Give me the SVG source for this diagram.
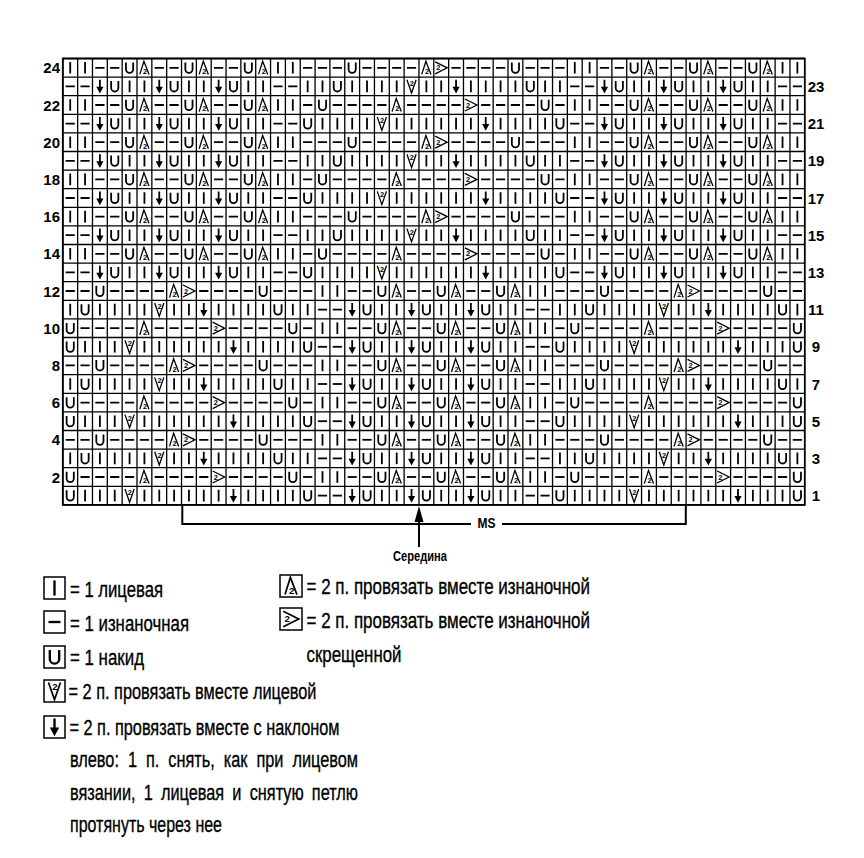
<svg xmlns="http://www.w3.org/2000/svg" xmlns:xlink="http://www.w3.org/1999/xlink" width="864" height="858" viewBox="0 0 864 858">
<style>
.g{stroke:#000;stroke-width:1.3;fill:none}
.s{stroke:#000;stroke-width:1.8;fill:none}
.s2{stroke:#000;stroke-width:1.3;fill:none;stroke-linejoin:miter}
.t2{font-family:'Liberation Sans',Arial,sans-serif;font-size:7.5px;font-weight:bold;fill:#000;text-anchor:middle}
.lbl{font-family:'Liberation Sans',Arial,sans-serif;font-size:15px;font-weight:bold;fill:#000}
.lg{font-family:'Liberation Sans',Arial,sans-serif;font-size:22px;fill:#000;stroke:#000;stroke-width:0.35}
.bx{fill:#fff;stroke:#000;stroke-width:1.5}
</style>
<defs>
<clipPath id="cp"><rect x="62.8" y="58.5" width="742" height="446.4"/></clipPath>
<g id="K"><path class="s" d="M0,-5.8V5.8"/></g>
<g id="P"><path class="s" d="M-4.6,0H4.6"/></g>
<g id="O"><path class="s" stroke-width="1.6" d="M-3.6,-5.3V1.5A3.6,3.6 0 0 0 3.6,1.5V-5.3"/></g>
<g id="A"><path class="s2" d="M-4.6,6.6L-0.5,-6.6L4.6,6.6"/><text class="t2" x="0.6" y="6.4">2</text></g>
<g id="T"><path class="s2" d="M-6,-6L6,0L-6,6"/><text class="t2" x="-2.9" y="2.6">2</text></g>
<g id="V"><path class="s2" d="M-4.6,-6.6L0,6.6L4.6,-6.6"/><text class="t2" x="0.3" y="-0.6">2</text></g>
<g id="D"><path class="s" d="M0,-6.6V2"/><path d="M-3.6,0.4H3.6L0,7.2Z" fill="#000"/></g>

<g id="SE"><use href="#K"/><use href="#K" x="14.84"/><use href="#P" x="29.68"/><use href="#P" x="44.52"/><use href="#O" x="59.36"/><use href="#A" x="74.2"/><use href="#P" x="89.04"/><use href="#P" x="103.88"/><use href="#O" x="118.72"/><use href="#A" x="133.56"/><use href="#P" x="148.4"/><use href="#P" x="163.24"/><use href="#O" x="178.08"/><use href="#A" x="192.92"/><use href="#K" x="207.76"/><use href="#K" x="222.6"/></g>
<g id="SO"><use href="#P"/><use href="#P" x="14.84"/><use href="#D" x="29.68"/><use href="#O" x="44.52"/><use href="#K" x="59.36"/><use href="#K" x="74.2"/><use href="#D" x="89.04"/><use href="#O" x="103.88"/><use href="#K" x="118.72"/><use href="#K" x="133.56"/><use href="#D" x="148.4"/><use href="#O" x="163.24"/><use href="#K" x="178.08"/><use href="#K" x="192.92"/><use href="#P" x="207.76"/><use href="#P" x="222.6"/></g>
<g id="CAE"><use href="#P"/><use href="#P" x="14.84"/><use href="#P" x="29.68"/><use href="#O" x="44.52"/><use href="#P" x="59.36"/><use href="#P" x="74.2"/><use href="#P" x="89.04"/><use href="#P" x="103.88"/><use href="#A" x="118.72"/><use href="#T" x="133.56"/><use href="#P" x="148.4"/><use href="#P" x="163.24"/><use href="#P" x="178.08"/><use href="#P" x="192.92"/><use href="#O" x="207.76"/><use href="#P" x="222.6"/><use href="#P" x="237.44"/><use href="#P" x="252.28"/></g>
<g id="CBE"><use href="#P"/><use href="#O" x="14.84"/><use href="#P" x="29.68"/><use href="#P" x="44.52"/><use href="#P" x="59.36"/><use href="#P" x="74.2"/><use href="#A" x="89.04"/><use href="#P" x="103.88"/><use href="#P" x="118.72"/><use href="#P" x="133.56"/><use href="#P" x="148.4"/><use href="#T" x="163.24"/><use href="#P" x="178.08"/><use href="#P" x="192.92"/><use href="#P" x="207.76"/><use href="#P" x="222.6"/><use href="#O" x="237.44"/><use href="#P" x="252.28"/></g>
<g id="CAO"><use href="#K"/><use href="#K" x="14.84"/><use href="#O" x="29.68"/><use href="#K" x="44.52"/><use href="#K" x="59.36"/><use href="#K" x="74.2"/><use href="#K" x="89.04"/><use href="#V" x="103.88"/><use href="#K" x="118.72"/><use href="#K" x="133.56"/><use href="#D" x="148.4"/><use href="#K" x="163.24"/><use href="#K" x="178.08"/><use href="#K" x="192.92"/><use href="#K" x="207.76"/><use href="#O" x="222.6"/><use href="#K" x="237.44"/><use href="#K" x="252.28"/></g>
<g id="CBM"><use href="#K" x="29.68"/><use href="#K" x="44.52"/><use href="#K" x="59.36"/><use href="#V" x="74.2"/><use href="#K" x="89.04"/><use href="#K" x="103.88"/><use href="#K" x="118.72"/><use href="#K" x="133.56"/><use href="#K" x="148.4"/><use href="#K" x="163.24"/><use href="#D" x="178.08"/><use href="#K" x="192.92"/><use href="#K" x="207.76"/><use href="#K" x="222.6"/></g>

<g id="rTA"><use href="#SE"/><use href="#CAE" x="237.44"/><use href="#SE" x="504.56"/></g>
<g id="rTB"><use href="#SE"/><use href="#CBE" x="237.44"/><use href="#SE" x="504.56"/></g>
<g id="rTAo"><use href="#SO"/><use href="#CAO" x="237.44"/><use href="#SO" x="504.56"/></g>
<g id="rTBo"><use href="#SO"/><use href="#O" x="237.44"/><use href="#K" x="252.28"/><use href="#CBM" x="237.44"/><use href="#K" x="474.88"/><use href="#O" x="489.72"/><use href="#SO" x="504.56"/></g>
<g id="rBA"><use href="#CAE" x="-14.84"/><use href="#SE" x="252.28"/><use href="#CAE" x="489.72"/></g>
<g id="rBB"><use href="#CBE" x="-14.84"/><use href="#SE" x="252.28"/><use href="#CBE" x="489.72"/></g>
<g id="rBAo"><use href="#CAO" x="-14.84"/><use href="#SO" x="252.28"/><use href="#CAO" x="489.72"/></g>
<g id="rBBo"><use href="#O"/><use href="#CBM" x="-14.84"/><use href="#K" x="222.6"/><use href="#O" x="237.44"/><use href="#SO" x="252.28"/><use href="#O" x="489.72"/><use href="#K" x="504.56"/><use href="#CBM" x="489.72"/><use href="#O" x="727.16"/></g>
</defs>

<rect width="864" height="858" fill="#fff"/>

<g id="chart">
<g id="grid">
<path class="g" d="M62.8,58.5v446.4m14.84,-446.4v446.4m14.84,-446.4v446.4m14.84,-446.4v446.4m14.84,-446.4v446.4m14.84,-446.4v446.4m14.84,-446.4v446.4m14.84,-446.4v446.4m14.84,-446.4v446.4m14.84,-446.4v446.4m14.84,-446.4v446.4m14.84,-446.4v446.4m14.84,-446.4v446.4m14.84,-446.4v446.4m14.84,-446.4v446.4m14.84,-446.4v446.4m14.84,-446.4v446.4m14.84,-446.4v446.4m14.84,-446.4v446.4m14.84,-446.4v446.4m14.84,-446.4v446.4m14.84,-446.4v446.4m14.84,-446.4v446.4m14.84,-446.4v446.4m14.84,-446.4v446.4m14.84,-446.4v446.4m14.84,-446.4v446.4m14.84,-446.4v446.4m14.84,-446.4v446.4m14.84,-446.4v446.4m14.84,-446.4v446.4m14.84,-446.4v446.4m14.84,-446.4v446.4m14.84,-446.4v446.4m14.84,-446.4v446.4m14.84,-446.4v446.4m14.84,-446.4v446.4m14.84,-446.4v446.4m14.84,-446.4v446.4m14.84,-446.4v446.4m14.84,-446.4v446.4m14.84,-446.4v446.4m14.84,-446.4v446.4m14.84,-446.4v446.4m14.84,-446.4v446.4m14.84,-446.4v446.4m14.84,-446.4v446.4m14.84,-446.4v446.4m14.84,-446.4v446.4m14.84,-446.4v446.4"/>
<path class="g" d="M62.8,58.5h742m-742,18.6h742m-742,18.6h742m-742,18.6h742m-742,18.6h742m-742,18.6h742m-742,18.6h742m-742,18.6h742m-742,18.6h742m-742,18.6h742m-742,18.6h742m-742,18.6h742m-742,18.6h742m-742,18.6h742m-742,18.6h742m-742,18.6h742m-742,18.6h742m-742,18.6h742m-742,18.6h742m-742,18.6h742m-742,18.6h742m-742,18.6h742m-742,18.6h742m-742,18.6h742m-742,18.6h742"/>
<rect x="62.8" y="58.5" width="742" height="446.4" fill="none" stroke="#000" stroke-width="1.8"/>
</g>
<g id="cells" clip-path="url(#cp)">
<use href="#rTA" x="70.22" y="67.8"/>
<use href="#rTAo" x="70.22" y="86.4"/>
<use href="#rTB" x="70.22" y="105"/>
<use href="#rTBo" x="70.22" y="123.6"/>
<use href="#rTA" x="70.22" y="142.2"/>
<use href="#rTAo" x="70.22" y="160.8"/>
<use href="#rTB" x="70.22" y="179.4"/>
<use href="#rTBo" x="70.22" y="198"/>
<use href="#rTA" x="70.22" y="216.6"/>
<use href="#rTAo" x="70.22" y="235.2"/>
<use href="#rTB" x="70.22" y="253.8"/>
<use href="#rTBo" x="70.22" y="272.4"/>
<use href="#rBA" x="70.22" y="291"/>
<use href="#rBAo" x="70.22" y="309.6"/>
<use href="#rBB" x="70.22" y="328.2"/>
<use href="#rBBo" x="70.22" y="346.8"/>
<use href="#rBA" x="70.22" y="365.4"/>
<use href="#rBAo" x="70.22" y="384"/>
<use href="#rBB" x="70.22" y="402.6"/>
<use href="#rBBo" x="70.22" y="421.2"/>
<use href="#rBA" x="70.22" y="439.8"/>
<use href="#rBAo" x="70.22" y="458.4"/>
<use href="#rBB" x="70.22" y="477"/>
<use href="#rBBo" x="70.22" y="495.6"/>
</g>
<g id="row-labels-left" class="lbl" text-anchor="end">
<text x="60" y="73.3">24</text>
<text x="60" y="110.5">22</text>
<text x="60" y="147.7">20</text>
<text x="60" y="184.9">18</text>
<text x="60" y="222.1">16</text>
<text x="60" y="259.3">14</text>
<text x="60" y="296.5">12</text>
<text x="60" y="333.7">10</text>
<text x="60" y="370.9">8</text>
<text x="60" y="408.1">6</text>
<text x="60" y="445.3">4</text>
<text x="60" y="482.5">2</text>
</g>
<g id="row-labels-right" class="lbl" text-anchor="middle">
<text x="816" y="91.9">23</text>
<text x="816" y="129.1">21</text>
<text x="816" y="166.3">19</text>
<text x="816" y="203.5">17</text>
<text x="816" y="240.7">15</text>
<text x="816" y="277.9">13</text>
<text x="816" y="315.1">11</text>
<text x="816" y="352.3">9</text>
<text x="816" y="389.5">7</text>
<text x="816" y="426.7">5</text>
<text x="816" y="463.9">3</text>
<text x="816" y="501.1">1</text>
</g>
</g>

<g id="connectors">
<path d="M182.3,505V524H471M502,524H685.8V505" fill="none" stroke="#000" stroke-width="2"/>
<path d="M419,520V547" stroke="#000" stroke-width="2"/>
<path d="M419,506L423.5,522H414.5Z" fill="#000"/>
</g>
<g id="ms-label"><text class="lbl" x="486.5" y="527.5" text-anchor="middle" font-size="14" textLength="18" lengthAdjust="spacingAndGlyphs">MS</text></g>
<g id="middle-label"><text class="lbl" x="420" y="561" text-anchor="middle" font-size="15" textLength="54" lengthAdjust="spacingAndGlyphs">Середина</text></g>

<g id="legend">
<g id="leg-knit"><rect class="bx" x="44" y="577" width="21" height="22"/><use href="#K" transform="translate(54.5,588) scale(1.3)"/><text class="lg" x="70" y="597" textLength="93" lengthAdjust="spacingAndGlyphs">= 1 лицевая</text></g>
<g id="leg-purl"><rect class="bx" x="44" y="611" width="21" height="22"/><use href="#P" transform="translate(54.5,622) scale(1.3)"/><text class="lg" x="70" y="631" textLength="119" lengthAdjust="spacingAndGlyphs">= 1 изнаночная</text></g>
<g id="leg-yo"><rect class="bx" x="44" y="646" width="21" height="22"/><use href="#O" transform="translate(54.5,657) scale(1.3)"/><text class="lg" x="70" y="665" textLength="74" lengthAdjust="spacingAndGlyphs">= 1 накид</text></g>
<g id="leg-k2tog"><rect class="bx" x="44" y="680" width="21" height="22"/><use href="#V" transform="translate(54.5,691) scale(1.3)"/><text class="lg" x="68.5" y="699" textLength="248" lengthAdjust="spacingAndGlyphs">= 2 п. провязать вместе лицевой</text></g>
<g id="leg-ssk"><rect class="bx" x="44" y="716" width="21" height="22"/><use href="#D" transform="translate(54.5,727) scale(1.3)"/><text class="lg" x="69.5" y="735" textLength="270" lengthAdjust="spacingAndGlyphs">= 2 п. провязать вместе с наклоном</text>
<text class="lg" x="70" y="767" word-spacing="6" textLength="288" lengthAdjust="spacingAndGlyphs">влево: 1 п. снять, как при лицевом</text>
<text class="lg" x="70" y="800" word-spacing="5" textLength="288" lengthAdjust="spacingAndGlyphs">вязании, 1 лицевая и снятую петлю</text>
<text class="lg" x="70" y="832" textLength="152" lengthAdjust="spacingAndGlyphs">протянуть через нее</text></g>
<g id="leg-p2tog"><rect class="bx" x="280" y="575" width="22" height="22"/><use href="#A" transform="translate(291,586) scale(1.3)"/><text class="lg" x="306.5" y="594" textLength="283.5" lengthAdjust="spacingAndGlyphs">= 2 п. провязать вместе изнаночной</text></g>
<g id="leg-p2togtbl"><rect class="bx" x="280" y="608" width="22" height="22"/><use href="#T" transform="translate(291,619) scale(1.3)"/><text class="lg" x="306.5" y="628" textLength="283.5" lengthAdjust="spacingAndGlyphs">= 2 п. провязать вместе изнаночной</text>
<text class="lg" x="306.5" y="662" textLength="95" lengthAdjust="spacingAndGlyphs">скрещенной</text></g>
</g>
</svg>
